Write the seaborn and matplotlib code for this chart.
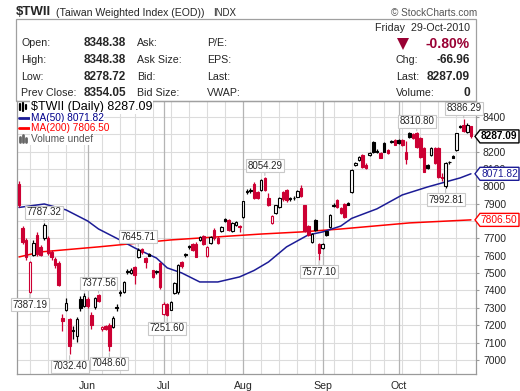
import numpy as np
import pandas as pd
import matplotlib
matplotlib.use("Agg")
import matplotlib.pyplot as plt
import matplotlib.transforms as mtransforms
from matplotlib.patches import Rectangle, Polygon
from matplotlib.lines import Line2D
import seaborn as sns

# --------------------------------------------------
# Data: $TWII daily candles, 05-May-2010 .. 29-Oct-2010
# --------------------------------------------------
holidays = ["2010-06-16", "2010-09-22"]
dates = pd.bdate_range("2010-05-05", "2010-10-29")
dates = dates[~dates.isin(pd.to_datetime(holidays))]

prev_close_start = 7990

opens = [8013, 7760, 7690, 7392, 7604, 7720, 7650, 7703, 7700, 7620,
         7580, 7560, 7240, 7290, 7235, 7175, 7140, 7350, 7310, 7350,
         7260, 7305, 7372, 7176, 7196, 7200, 7190, 7305, 7390, 7390,
         7510, 7500, 7535, 7595, 7640, 7585, 7610, 7515, 7510, 7560,
         7265, 7320, 7290, 7386, 7392, 7565, 7610, 7655, 7670, 7670,
         7690, 7715, 7600, 7674, 7748, 7705, 7743, 7810, 7805, 7740,
         7778, 7770, 7823, 7975, 7980, 8015, 7965, 7980, 8050, 7930,
         7790, 7846, 7880, 7965, 7978, 7935, 7935, 7940, 7990, 7890,
         7770, 7680, 7805, 7670, 7645, 7740, 7766, 7895, 7920, 7872,
         7900, 7905, 7967, 8123, 8151, 8180, 8125, 8180, 8255, 8205,
         8190, 8250, 8209, 8260, 8265, 8265, 8265, 8195, 8305, 8300,
         8305, 8280, 8220, 8120, 8180, 8220, 8220, 8055, 8000, 8140,
         8175, 8210, 8345, 8355, 8315, 8348.38]
highs = [8030, 7772, 7702, 7572, 7688, 7734, 7662, 7787.32, 7712, 7632,
         7592, 7572, 7262, 7358, 7242, 7198, 7245, 7368, 7384, 7360,
         7276, 7364, 7377.56, 7196, 7204, 7210, 7255, 7320, 7404, 7456,
         7522, 7528, 7540, 7645.71, 7644, 7592, 7618, 7520, 7520, 7566,
         7336, 7328, 7338, 7446, 7552, 7572, 7618, 7664, 7676, 7678,
         7712, 7722, 7654, 7712, 7758, 7712, 7770, 7818, 7812, 7795,
         7800, 7778, 7918, 7985, 7992, 8022, 7972, 8040, 8054.29, 7962,
         7832, 7895, 7936, 7972, 7985, 7940, 7942, 7978, 8010, 7895,
         7778, 7730, 7810, 7676, 7674, 7745, 7838, 7902, 7928, 7878,
         7906, 7912, 8098, 8138, 8172, 8186, 8132, 8196, 8260, 8212,
         8196, 8256, 8214, 8268, 8270, 8272, 8270, 8262, 8310, 8306,
         8310.80, 8286, 8226, 8128, 8224, 8226, 8226, 8075, 8138, 8146,
         8182, 8308, 8352, 8386.29, 8362, 8348.38]
lows = [7880, 7668, 7578, 7387.19, 7596, 7600, 7596, 7690, 7602, 7578,
        7530, 7425, 7165, 7280, 7032.40, 7120, 7102, 7282, 7302, 7298,
        7180, 7292, 7336, 7168, 7172, 7048.60, 7184, 7280, 7370, 7384,
        7492, 7494, 7440, 7585, 7612, 7530, 7596, 7470, 7495, 7410,
        7256, 7251.60, 7286, 7380, 7382, 7530, 7590, 7640, 7628, 7590,
        7686, 7660, 7590, 7668, 7692, 7668, 7738, 7795, 7745, 7735,
        7772, 7735, 7818, 7955, 7960, 7928, 7924, 7975, 7975, 7888,
        7780, 7842, 7876, 7918, 7912, 7915, 7922, 7936, 7940, 7738,
        7715, 7672, 7745, 7577.10, 7640, 7715, 7760, 7880, 7875, 7840,
        7818, 7890, 7960, 8118, 8146, 8104, 8100, 8175, 8190, 8190,
        8160, 8196, 8186, 8250, 8236, 8245, 8232, 8130, 8280, 8272,
        8220, 8165, 8080, 8100, 8175, 8130, 8050, 8030, 7992.81, 8128,
        8160, 8205, 8335, 8310, 8308, 8278.72]
closes = [7892, 7680, 7590, 7565, 7674, 7610, 7605, 7777, 7615, 7590,
          7545, 7432, 7225, 7330, 7080, 7165, 7235, 7300, 7370, 7310,
          7200, 7357, 7342, 7190, 7180, 7080, 7240, 7298, 7385, 7450,
          7505, 7520, 7490, 7633, 7622, 7565, 7600, 7475, 7505, 7420,
          7320, 7260, 7334, 7443, 7547, 7540, 7605, 7650, 7635, 7595,
          7708, 7665, 7650, 7708, 7700, 7675, 7766, 7800, 7750, 7790,
          7795, 7765, 7915, 7967, 7970, 7935, 7930, 8036, 7980, 7895,
          7829, 7892, 7933, 7925, 7920, 7925, 7930, 7975, 7945, 7740,
          7722, 7726, 7750, 7615, 7670, 7722, 7835, 7885, 7882, 7846,
          7823, 7895, 8094, 8134, 8168, 8110, 8108, 8192, 8195, 8200,
          8165, 8200, 8192, 8255, 8240, 8250, 8238, 8155, 8285, 8278,
          8225, 8170, 8085, 8105, 8220, 8135, 8055, 8050, 8135, 8137,
          8165, 8305, 8340, 8320, 8354.05, 8287.09]

# moving averages at a few sessions
ma50_idx = [0, 7, 13, 19, 22, 28, 32, 38, 41, 45, 50, 55, 61, 65, 69, 74,
            80, 84, 89, 92, 99, 106, 113, 118, 122, 125]
ma50 = [7878, 7898, 7864, 7800, 7754, 7690, 7645, 7587, 7530, 7501, 7449,
        7449, 7478, 7515, 7564, 7651, 7720, 7737, 7771, 7815, 7870, 7950,
        7996, 8025, 8048, 8071.82]
ma200_idx = [0, 6, 22, 42, 50, 67, 78, 89, 108, 125]
ma200 = [7593, 7622, 7651, 7691, 7702, 7725, 7737, 7754, 7789, 7806.50]

# labelled swing highs / lows
label_idx = [7, 33, 3, 22, 14, 25, 41, 68, 83, 110, 123, 118]
label_kind = ["high", "high", "low", "high", "low", "low", "low", "high",
              "low", "high", "high", "low"]

yticks = [7000, 7100, 7200, 7300, 7400, 7500, 7600, 7700, 7900, 8000,
          8100, 8200, 8400]
months = ["Jun", "Jul", "Aug", "Sep", "Oct"]

info_left_labels = ["Open:", "High:", "Low:", "Prev Close:"]
info_left_values = ["8348.38", "8348.38", "8278.72", "8354.05"]
info_mid_labels = ["Ask:", "Ask Size:", "Bid:", "Bid Size:"]
info_mid2_labels = ["P/E:", "EPS:", "Last:", "VWAP:"]
info_right_labels = ["Chg:", "Last:", "Volume:"]
info_right_values = ["-66.96", "8287.09", "0"]

# --------------------------------------------------
# Style
# --------------------------------------------------
sns.set_style("white")
plt.rcParams["font.family"] = ["Liberation Sans", "DejaVu Sans"]

RED = "#cc0033"
BLUE = "#1c1c96"
MA_RED = "#ff0000"
GRID = "#dcdcdc"
MGRID = "#b4b4b4"

W, H = 520, 391
fig = plt.figure(figsize=(W / 100, H / 100), dpi=100)


def fx(px):
    return px / W


def fy(py):
    return 1 - py / H


# --------------------------------------------------
# Header and info box
# --------------------------------------------------
fig.text(fx(16), fy(12), "$TWII", fontsize=9.5, fontweight="bold", va="center")
fig.text(fx(56), fy(12.5), "(Taiwan Weighted Index (EOD))", fontsize=7.6, va="center")
fig.text(fx(213), fy(12.5), "INDX", fontsize=7, va="center")
fig.text(fx(477), fy(12.5), "\u00a9 StockCharts.com", fontsize=7.2, color="#555555",
         ha="right", va="center")

fig.patches.append(Rectangle((fx(16), fy(101)), fx(476) - fx(16), fy(19) - fy(101),
                             transform=fig.transFigure, fill=False,
                             edgecolor="#a0a0a0", lw=0.9))

rows = [43, 60, 77, 93]
for r, lab, val, lab2, lab3 in zip(rows, info_left_labels, info_left_values,
                                   info_mid_labels, info_mid2_labels):
    fig.text(fx(21), fy(r), lab, fontsize=7.7, va="center")
    fig.text(fx(126), fy(r), val, fontsize=8.5, fontweight="bold", ha="right", va="center")
    fig.text(fx(137), fy(r), lab2, fontsize=7.7, va="center")
    fig.text(fx(207), fy(r), lab3, fontsize=7.7, va="center")

fig.text(fx(470), fy(28), "Friday  29-Oct-2010", fontsize=7.7, ha="right", va="center")
fig.text(fx(470), fy(44), "-0.80%", fontsize=10, fontweight="bold", color="#990033",
         ha="right", va="center")
fig.patches.append(Polygon([(fx(397), fy(38)), (fx(409), fy(38)), (fx(403), fy(50))],
                           closed=True, transform=fig.transFigure,
                           facecolor="#990033", edgecolor="none"))
for r, lab, val in zip(rows[1:], info_right_labels, info_right_values):
    fig.text(fx(396), fy(r), lab, fontsize=7.7, va="center")
    fig.text(fx(470), fy(r), val, fontsize=8.6, fontweight="bold", ha="right", va="center")

# --------------------------------------------------
# Price chart
# --------------------------------------------------
ax = fig.add_axes([fx(17), fy(374), fx(476) - fx(17), fy(101) - fy(374)])
ymin, ymax = 6919, 8491
ax.set_xlim(-0.55, 126.4)
ax.set_ylim(ymin, ymax)

x = np.arange(len(closes))
o = np.array(opens)
c = np.array(closes)
h = np.array(highs)
l = np.array(lows)
prev = np.concatenate([[prev_close_start], c[:-1]])
colors = np.where(c < prev, RED, "black")
faces = np.where(c < o, colors, "white")

# grid: 100-point lines, weekly lines, darker month lines
for t in range(7000, 8500, 100):
    ax.axhline(t, color=GRID, lw=0.8, zorder=0)
week_start = [i for i in range(1, len(dates)) if dates[i].weekday() < dates[i - 1].weekday()]
month_start = [i for i in range(1, len(dates)) if dates[i].month != dates[i - 1].month]
for i in week_start:
    if i not in month_start:
        ax.axvline(i, color=GRID, lw=0.8, zorder=0)
for i in month_start:
    ax.axvline(i, color=MGRID, lw=0.9, zorder=0)

# moving averages
sns.lineplot(x=ma200_idx, y=ma200, ax=ax, color=MA_RED, lw=1.1, zorder=2)
sns.lineplot(x=ma50_idx, y=ma50, ax=ax, color=BLUE, lw=1.1, zorder=2)

# candles
ax.vlines(x, l, h, colors=colors, lw=0.9, zorder=3)
body_low = np.minimum(o, c)
body_h = np.maximum(np.abs(c - o), 4)
ax.bar(x, body_h, bottom=body_low, width=0.7, color=faces, edgecolor=colors,
       lw=0.8, zorder=4)

# swing labels
for i, kind in zip(label_idx, label_kind):
    val = highs[i] if kind == "high" else lows[i]
    dy = 11 if kind == "high" else -12
    ax.annotate(f"{val:.2f}", xy=(i, val), xytext=(0, dy), textcoords="offset pixels",
                ha="center", va="center", fontsize=7, zorder=6,
                bbox=dict(boxstyle="square,pad=0.15", fc="white", ec="#c8c8c8", lw=0.8),
                arrowprops=dict(arrowstyle="-", color="#c0c0c0", lw=0.8,
                                shrinkA=0, shrinkB=1))

# axes styling
for s in ax.spines.values():
    s.set_color("#9a9a9a")
    s.set_linewidth(0.9)
ax.yaxis.tick_right()
ax.set_yticks(yticks)
ax.set_yticklabels([str(t) for t in yticks])
ax.tick_params(axis="y", which="major", length=2, color="#9a9a9a", labelsize=7.5, pad=3)
ax.set_xticks(month_start)
ax.set_xticklabels(months)
ax.set_xticks(x, minor=True)
ax.tick_params(axis="x", which="major", length=3, color="#9a9a9a", labelsize=7.6, pad=2)
ax.tick_params(axis="x", which="minor", length=1.5, color="#b0b0b0")
ax.set_xlabel("")
ax.set_ylabel("")

# last value boxes on the right edge
ppx = (ymax - ymin) / 273
trans = mtransforms.blended_transform_factory(fig.transFigure, ax.transData)
for val, ec, tc, bold in [(closes[-1], "black", "black", True),
                          (ma50[-1], BLUE, BLUE, False),
                          (ma200[-1], MA_RED, MA_RED, False)]:
    pts = [(fx(475), val), (fx(480), val + 6.5 * ppx), (fx(519), val + 6.5 * ppx),
           (fx(519), val - 6.5 * ppx), (fx(480), val - 6.5 * ppx)]
    poly = Polygon(pts, closed=True, transform=trans, facecolor="white",
                   edgecolor=ec, lw=1.0, clip_on=False, zorder=10)
    ax.add_patch(poly)
    ax.text(fx(481), val, f"{val:.2f}", transform=trans, fontsize=7.3,
            fontweight="bold" if bold else "normal", color=tc, va="center",
            ha="left", clip_on=False, zorder=11)

# in-chart legend
leg = [("$TWII (Daily) 8287.09", "black", 107, 9),
       ("MA(50) 8071.82", "#00008b", 118, 7.3),
       ("MA(200) 7806.50", MA_RED, 128, 7.3),
       ("Volume undef", "#555555", 139, 7.3)]
for txt, col, py, fs in leg:
    fig.text(fx(31), fy(py), txt, fontsize=fs, color=col, va="center", zorder=12,
             bbox=dict(boxstyle="square,pad=0.05", fc="white", ec="none"))
fig.lines.append(Line2D([fx(19), fx(29)], [fy(118), fy(118)], color=BLUE, lw=2,
                        transform=fig.transFigure))
fig.lines.append(Line2D([fx(19), fx(29)], [fy(128), fy(128)], color=MA_RED, lw=2,
                        transform=fig.transFigure))
for px0, top, bot in [(20, 104, 110), (23, 103, 111), (26, 105, 109)]:
    fig.lines.append(Line2D([fx(px0), fx(px0)], [fy(top), fy(bot)], color="black",
                            lw=1.6, transform=fig.transFigure))
for px0, top in [(20, 137), (23, 135), (26, 138)]:
    fig.lines.append(Line2D([fx(px0), fx(px0)], [fy(top), fy(142)], color="#666666",
                            lw=2, transform=fig.transFigure))

fig.savefig("out.png", dpi=100)
